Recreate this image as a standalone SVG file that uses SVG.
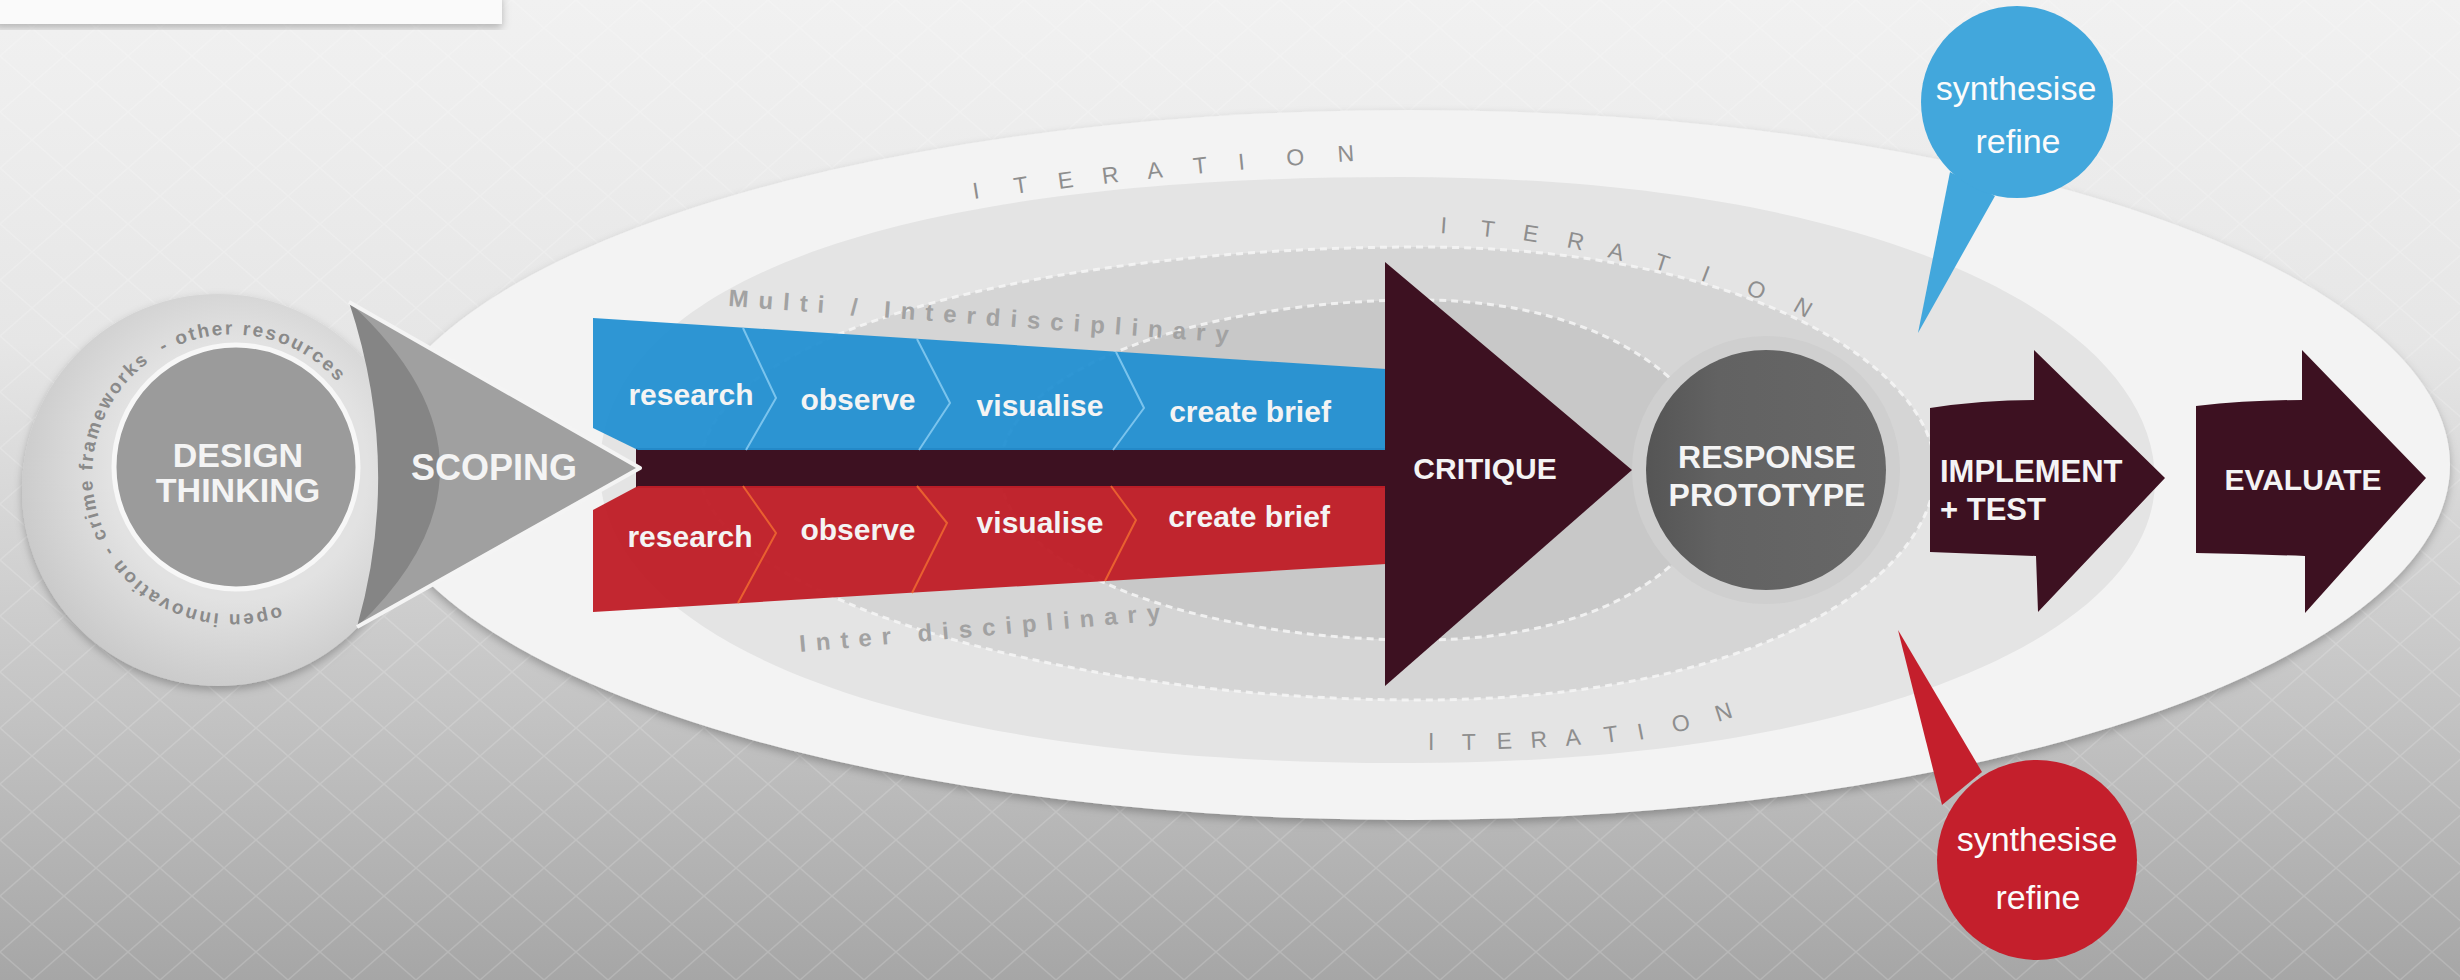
<svg xmlns="http://www.w3.org/2000/svg" width="2460" height="980" viewBox="0 0 2460 980">
<style>
.t{font-family:"Liberation Sans",Arial,sans-serif}
.w{fill:#f4f4f4;font-weight:bold}
.mid{text-anchor:middle}
.band{font-size:30px}
.arw{fill:#3d1121}
.iter{font-size:23px;fill:#8e8e8e}
.disc{font-size:24px;font-weight:bold;fill:#a2a2a2;letter-spacing:10px}
.ring{font-size:19px;font-weight:bold;fill:#8a8a8a;letter-spacing:2.2px}
.bub{font-size:34px;fill:#fbfbfb;text-anchor:middle}
.dash{fill:none;stroke:#f6f6f6;stroke-width:3;stroke-dasharray:7 5;opacity:0.85}
.chevB{fill:none;stroke:#8fd0f4;stroke-width:2;opacity:0.8}
.chevR{fill:none;stroke:#f06a30;stroke-width:2;opacity:0.85}
</style>
<defs>
  <linearGradient id="bg" x1="0" y1="0" x2="0" y2="1">
    <stop offset="0" stop-color="#f1f1f1"/>
    <stop offset="0.35" stop-color="#e6e6e6"/>
    <stop offset="0.72" stop-color="#c4c4c4"/>
    <stop offset="1" stop-color="#a6a6a6"/>
  </linearGradient>
  <pattern id="tex" width="64" height="56" patternUnits="userSpaceOnUse">
    <path d="M0,0 L32,28 L0,56 M64,0 L32,28 L64,56" stroke="#ffffff" stroke-width="1.5" fill="none" opacity="0.16"/>
  </pattern>
  <radialGradient id="discG" cx="0.55" cy="0.45" r="0.6">
    <stop offset="0.55" stop-color="#e2e2e2"/>
    <stop offset="1" stop-color="#c7c7c7"/>
  </radialGradient>
  <linearGradient id="respG" x1="0" y1="0" x2="1" y2="0">
    <stop offset="0" stop-color="#555555"/>
    <stop offset="0.3" stop-color="#626262"/>
    <stop offset="1" stop-color="#676767"/>
  </linearGradient>
  <filter id="sh" x="-10%" y="-10%" width="120%" height="130%">
    <feDropShadow dx="0" dy="4" stdDeviation="4" flood-color="#000" flood-opacity="0.25"/>
  </filter>
  <path id="ringPath" d="M280,606 A140,140 0 1 1 339.2,384"/>
</defs>

<g id="background">
  <rect width="2460" height="980" fill="url(#bg)"/>
  <rect width="2460" height="980" fill="url(#tex)"/>
  <rect x="-6" y="-6" width="508" height="30" fill="#fafafa" filter="url(#sh)"/>
</g>

<g id="iteration-rings">
  <ellipse cx="1410" cy="465" rx="1040" ry="355" fill="#f3f3f3" filter="url(#sh)"/>
  <path d="M600,470 C600,290 870,177 1400,177 C1880,177 2155,320 2155,480 C2155,640 1850,765 1400,763 C870,763 600,630 600,470 Z" fill="#e4e4e4"/>
  <path d="M700,470 C700,330 1050,247 1420,247 C1750,247 1935,370 1935,470 C1935,580 1750,700 1420,700 C1050,700 700,590 700,470 Z" fill="#d5d5d5"/>
  <path class="dash" d="M700,470 C700,330 1050,247 1420,247 C1750,247 1935,370 1935,470 C1935,580 1750,700 1420,700 C1050,700 700,590 700,470 Z"/>
  <path d="M1000,470 C1000,370 1200,300 1420,300 C1620,300 1720,400 1720,470 C1720,550 1620,640 1420,640 C1200,640 1000,570 1000,470 Z" fill="#c8c8c8"/>
  <path class="dash" d="M1000,470 C1000,370 1200,300 1420,300 C1620,300 1720,400 1720,470 C1720,550 1620,640 1420,640 C1200,640 1000,570 1000,470 Z"/>
  <text class="t iter" x="974 1015 1059 1103 1148 1194 1239 1287 1338" y="199 194 189 184 179 174 170 166 162" rotate="-9 -8.5 -8 -7.5 -7 -6 -5.5 -5 -4">ITERATION</text>
  <text class="t iter" x="1440 1480 1522 1566 1607 1653 1700 1745 1792" y="233 236 240 247 257 268 280 293 310" rotate="4 6 9 12 15 18 21 25 30">ITERATION</text>
  <text class="t iter" x="1428 1462 1497 1531 1566 1605 1639 1674 1718" y="750 750 749 748 746 743 740 733 722" rotate="0 -1 -2 -4 -6 -8 -11 -14 -18">ITERATION</text>
  <text class="t disc" x="728" y="306" transform="rotate(4.2 728 306)">Multi / Interdisciplinary</text>
  <text class="t disc" x="800" y="652" transform="rotate(-5 800 652)">Inter disciplinary</text>
</g>

<g id="connectors">
  <rect x="636" y="448" width="754" height="40" fill="#3d1121"/>
</g>

<g id="design-thinking">
  <circle cx="218" cy="490" r="196" fill="url(#discG)" filter="url(#sh)"/>
  <circle cx="236" cy="467" r="122" fill="#9b9b9b" stroke="#f7f7f7" stroke-width="5"/>
  <text class="t ring"><textPath href="#ringPath" startOffset="0">open innovation -</textPath></text>
  <text class="t ring"><textPath href="#ringPath" startOffset="203">crime</textPath></text>
  <text class="t ring"><textPath href="#ringPath" startOffset="272">frameworks</textPath></text>
  <text class="t ring"><textPath href="#ringPath" startOffset="416">- other resources</textPath></text>
  <text class="t w mid" font-size="34" x="238" y="467">DESIGN</text>
  <text class="t w mid" font-size="34" x="238" y="502">THINKING</text>
</g>

<g id="scoping">
  <path d="M349,302 L640,468 L357,627 Q403,465 349,302 Z" fill="#858585"/>
  <path d="M349,302 L640,468 L357,627 Q527,465 349,302 Z" fill="#a0a0a0"/>
  <path d="M349,302 L640,468 L357,627" fill="none" stroke="#f4f4f4" stroke-width="4" stroke-linejoin="round"/>
  <text class="t w mid" font-size="36" x="494" y="480">SCOPING</text>
</g>

<g id="multidisciplinary-band">
  <path d="M593,318 L1386,369 L1386,450 L638,450 L593,428 Z" fill="#2390d2" opacity="0.95"/>
  <polyline class="chevB" points="743,328 776,398 746,450"/>
  <polyline class="chevB" points="917,339 950,403 919,450"/>
  <polyline class="chevB" points="1116,352 1144,408 1113,450"/>
  <text class="t w mid band" x="691" y="405">research</text>
  <text class="t w mid band" x="858" y="410">observe</text>
  <text class="t w mid band" x="1040" y="416">visualise</text>
  <text class="t w mid band" x="1250" y="422">create brief</text>
</g>

<g id="interdisciplinary-band">
  <path d="M638,486 L1386,486 L1386,564 L593,612 L593,510 Z" fill="#c01e28" opacity="0.96"/>
  <polyline class="chevR" points="743,486 776,533 738,603"/>
  <polyline class="chevR" points="917,486 947,523 912,593"/>
  <polyline class="chevR" points="1111,486 1136,520 1105,581"/>
  <text class="t w mid band" x="690" y="547">research</text>
  <text class="t w mid band" x="858" y="540">observe</text>
  <text class="t w mid band" x="1040" y="533">visualise</text>
  <text class="t w mid band" x="1249" y="527">create brief</text>
</g>

<g id="critique">
  <path class="arw" d="M1385,262 L1632,470 L1385,686 Z"/>
  <text class="t w mid" font-size="30" x="1485" y="479">CRITIQUE</text>
</g>

<g id="response-prototype">
  <circle cx="1766" cy="470" r="134" fill="#cfcfcf"/>
  <circle cx="1766" cy="470" r="120" fill="url(#respG)"/>
  <text class="t w mid" font-size="32" x="1767" y="468">RESPONSE</text>
  <text class="t w mid" font-size="32" x="1767" y="506">PROTOTYPE</text>
</g>

<g id="implement-test">
  <path class="arw" d="M1930,408 Q1982,400 2034,400 L2034,350 L2165,478 L2038,612 L2036,556 Q1982,554 1930,552 Z"/>
  <text class="t w" font-size="31" x="1940" y="482">IMPLEMENT</text>
  <text class="t w" font-size="31" x="1940" y="520">+ TEST</text>
</g>

<g id="evaluate">
  <path class="arw" d="M2196,406 Q2250,400 2302,400 L2302,350 L2426,478 L2305,613 L2305,556 Q2250,554 2196,553 Z"/>
  <text class="t w mid" font-size="30" x="2303" y="490">EVALUATE</text>
</g>

<g id="synthesise-refine-top">
  <path d="M1950,172 L1995,196 L1918,333 Z" fill="#42a7dc"/>
  <circle cx="2017" cy="102" r="96" fill="#42a7dc"/>
  <text class="t bub" x="2016" y="100">synthesise</text>
  <text class="t bub" x="2018" y="153">refine</text>
</g>

<g id="synthesise-refine-bottom">
  <path d="M1942,805 L1982,772 L1898,630 Z" fill="#c41f2c"/>
  <circle cx="2037" cy="860" r="100" fill="#c41f2c"/>
  <text class="t bub" x="2037" y="851">synthesise</text>
  <text class="t bub" x="2038" y="909">refine</text>
</g>
</svg>
